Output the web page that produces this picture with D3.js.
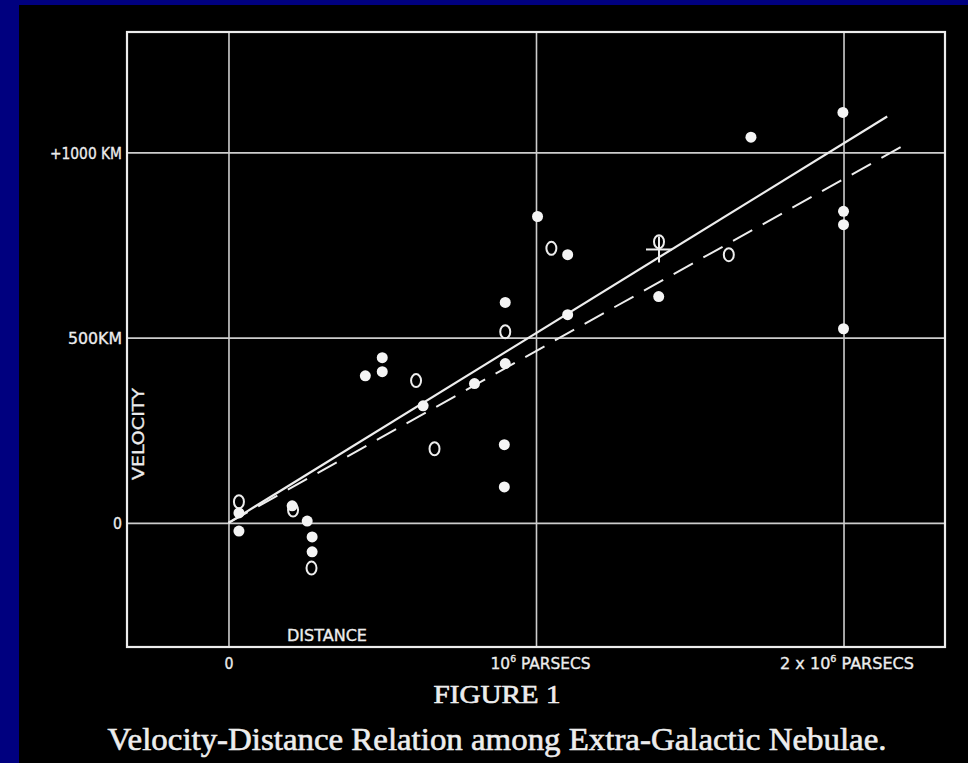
<!DOCTYPE html>
<html>
<head>
<meta charset="utf-8">
<script src="https://cdn.jsdelivr.net/npm/d3@7"></script>
<style>
  body { margin: 0; background: #00007f; }
  svg { display: block; }
</style>
</head>
<body>
<div id="chart"></div>
<script>
// distance in units of 10^6 parsecs, velocity in km/s

// individual nebulae (solid dots)
var soloDist = [0.034, 0.034, 0.207, 0.256, 0.272, 0.272, 0.445, 0.50, 0.50, 0.633, 0.80, 0.90,
                0.90, 0.897, 0.897, 1.005, 1.103, 1.103, 1.399, 1.699, 1.998, 2.0, 2.0, 2.0];
var soloVel  = [27, -22, 46, 5, -38, -78, 397, 446, 408, 316, 376, 595,
                430, 211, 97, 827, 724, 562, 611, 1041, 1108, 841, 805, 524];

// groups of nebulae (open circles)
var groupDist = [0.034, 0.21, 0.27, 0.61, 0.67, 0.90, 1.05, 1.40, 1.627];
var groupVel  = [57, 35, -122, 384, 200, 516, 741, 759, 724];

// mean of the 22 nebulae without individual distances (cross)
var crossDist = [1.40];
var crossVel  = [738];

// fitted lines
var solidFitDist = [0, 2.142];
var solidFitVel  = [0, 1097];
var dashFitDist  = [0, 2.203];
var dashFitVel   = [0, 1022];

// ticks
var yTicks = [0, 500, 1000];
var yTickLabels = ["0", "500KM", "+1000 KM"];
var xTicks = [0, 1, 2];
var xTickPre  = ["0", "10", "2 x 10"];
var xTickSup  = ["", "6", "6"];
var xTickPost = ["", " PARSECS", " PARSECS"];

var W = 968, H = 763;
var ink = "#ededed";
var lettering = "'DejaVu Sans Condensed', 'Liberation Sans Narrow', 'DejaVu Sans', sans-serif";
var serif = "'Liberation Serif', 'DejaVu Serif', serif";

var svg = d3.select("#chart").append("svg")
    .attr("width", W)
    .attr("height", H);

svg.append("rect").attr("width", W).attr("height", H).attr("fill", "#00007f");
svg.append("rect").attr("x", 19).attr("y", 5).attr("width", W - 19).attr("height", H - 5).attr("fill", "#000");

var x = d3.scaleLinear().domain([-0.33, 2.33]).range([127, 945]);
var y = d3.scaleLinear().domain([-335, 1325]).range([647, 32]);

var plotW = x.range()[1] - x.range()[0];
var plotH = y.range()[0] - y.range()[1];

// horizontal grid + velocity labels
var yAxis = svg.append("g")
    .attr("transform", "translate(" + x.range()[0] + ",0)")
    .call(d3.axisLeft(y)
      .tickValues(yTicks)
      .tickSize(-plotW)
      .tickPadding(5)
      .tickFormat(function(d, i) { return yTickLabels[i]; }));
yAxis.select(".domain").remove();
yAxis.selectAll("line").attr("stroke", "#cdcdcd").attr("stroke-width", 1.6);
var yLabelWidth = {"0": 9, "500KM": 54, "+1000 KM": 72};
yAxis.selectAll("text")
    .attr("fill", ink)
    .attr("stroke", ink)
    .attr("stroke-width", 0.3)
    .attr("font-family", lettering)
    .attr("font-size", 15)
    .attr("dy", "0.4em")
    .attr("textLength", function(d, i) { return yLabelWidth[yTickLabels[i]]; })
    .attr("lengthAdjust", "spacingAndGlyphs");

// vertical grid + distance labels
var xAxis = svg.append("g")
    .attr("transform", "translate(0," + y.range()[0] + ")")
    .call(d3.axisBottom(x)
      .tickValues(xTicks)
      .tickSize(-plotH)
      .tickPadding(12)
      .tickFormat(""));
xAxis.select(".domain").remove();
xAxis.selectAll("line").attr("stroke", "#cdcdcd").attr("stroke-width", 1.6);
var xLabelWidth = [9, 100, 134];
var xLabelShift = [0, 4, 3];
xAxis.selectAll(".tick text")
    .attr("fill", ink)
    .attr("stroke", ink)
    .attr("stroke-width", 0.3)
    .attr("font-family", lettering)
    .attr("font-size", 15)
    .attr("dy", "0.68em")
    .attr("x", function(d, i) { return xLabelShift[i]; })
    .each(function(d, i) {
      var t = d3.select(this);
      t.text(null);
      t.append("tspan").text(xTickPre[i]);
      if (xTickSup[i]) {
        t.append("tspan").attr("dy", -7).attr("font-size", 9).text(xTickSup[i]);
        t.append("tspan").attr("dy", 7).text(xTickPost[i]);
      }
      t.attr("textLength", xLabelWidth[i]).attr("lengthAdjust", "spacingAndGlyphs");
    });

// frame
svg.append("rect")
    .attr("x", x.range()[0])
    .attr("y", y.range()[1])
    .attr("width", plotW)
    .attr("height", plotH)
    .attr("fill", "none")
    .attr("stroke", ink)
    .attr("stroke-width", 2.2);

// axis titles
svg.append("text")
    .attr("x", 287).attr("y", 641)
    .attr("fill", ink)
    .attr("stroke", ink)
    .attr("stroke-width", 0.3)
    .attr("font-family", lettering)
    .attr("font-size", 15)
    .attr("textLength", 80)
    .attr("lengthAdjust", "spacingAndGlyphs")
    .text("DISTANCE");

svg.append("text")
    .attr("transform", "translate(144,434) rotate(-90)")
    .attr("text-anchor", "middle")
    .attr("fill", ink)
    .attr("stroke", ink)
    .attr("stroke-width", 0.3)
    .attr("font-family", lettering)
    .attr("font-size", 15)
    .attr("textLength", 92)
    .attr("lengthAdjust", "spacingAndGlyphs")
    .text("VELOCITY");

// fitted lines
var line = d3.line()
    .x(function(d) { return x(d[0]); })
    .y(function(d) { return y(d[1]); });

svg.append("path")
    .datum(d3.zip(dashFitDist, dashFitVel))
    .attr("d", line)
    .attr("fill", "none")
    .attr("stroke", ink)
    .attr("stroke-width", 2)
    .attr("stroke-dasharray", "22,12");

svg.append("path")
    .datum(d3.zip(solidFitDist, solidFitVel))
    .attr("d", line)
    .attr("fill", "none")
    .attr("stroke", ink)
    .attr("stroke-width", 2.2);

// open circles (groups)
svg.append("g").selectAll("ellipse")
  .data(d3.zip(groupDist, groupVel))
  .enter()
  .append("ellipse")
    .attr("cx", function(d) { return x(d[0]); })
    .attr("cy", function(d) { return y(d[1]); })
    .attr("rx", 5)
    .attr("ry", 6.5)
    .attr("fill", "none")
    .attr("stroke", ink)
    .attr("stroke-width", 2);

// solid dots (individual nebulae)
svg.append("g").selectAll("circle")
  .data(d3.zip(soloDist, soloVel))
  .enter()
  .append("circle")
    .attr("cx", function(d) { return x(d[0]); })
    .attr("cy", function(d) { return y(d[1]); })
    .attr("r", 5.5)
    .attr("fill", "#f4f4f4");

// cross
var cross = svg.append("g").selectAll("g")
  .data(d3.zip(crossDist, crossVel))
  .enter()
  .append("g")
    .attr("transform", function(d) { return "translate(" + x(d[0]) + "," + y(d[1]) + ")"; });
cross.append("line").attr("x1", -13).attr("x2", 13).attr("y1", 0).attr("y2", 0)
    .attr("stroke", ink).attr("stroke-width", 2);
cross.append("line").attr("x1", 0).attr("x2", 0).attr("y1", -13).attr("y2", 13)
    .attr("stroke", ink).attr("stroke-width", 2);

// caption
svg.append("text")
    .attr("x", 497).attr("y", 703)
    .attr("text-anchor", "middle")
    .attr("fill", ink)
    .attr("stroke", ink)
    .attr("stroke-width", 0.6)
    .attr("font-family", serif)
    .attr("font-size", 25)
    .attr("textLength", 127)
    .attr("lengthAdjust", "spacingAndGlyphs")
    .text("FIGURE 1");

svg.append("text")
    .attr("x", 497).attr("y", 750)
    .attr("text-anchor", "middle")
    .attr("fill", ink)
    .attr("stroke", ink)
    .attr("stroke-width", 0.6)
    .attr("font-family", serif)
    .attr("font-size", 31)
    .attr("textLength", 779)
    .attr("lengthAdjust", "spacingAndGlyphs")
    .text("Velocity-Distance Relation among Extra-Galactic Nebulae.");
</script>
</body>
</html>
